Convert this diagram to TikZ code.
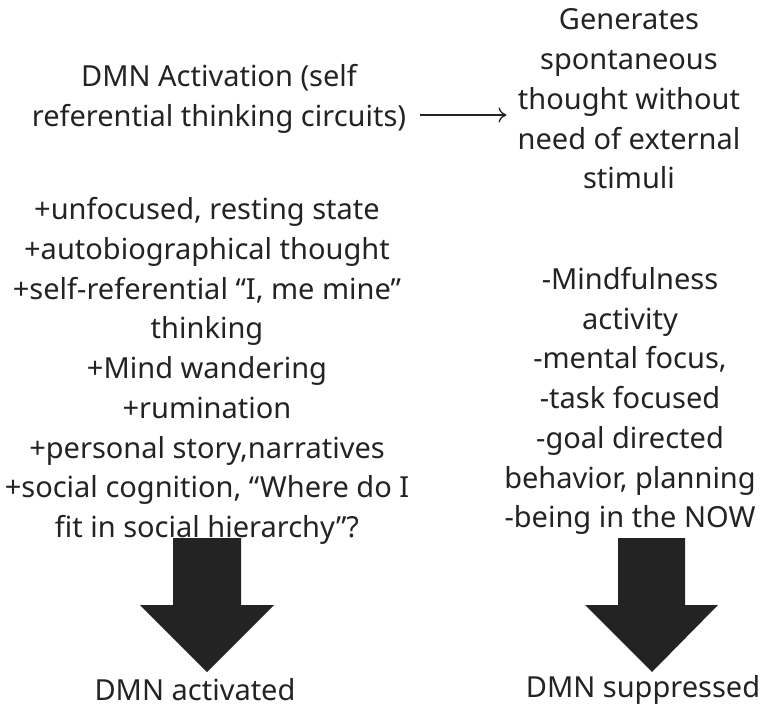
\documentclass[tikz,border=0pt]{standalone}
\usepackage{fontspec}
\setmainfont{Noto Sans}
\usepackage{tikz}
\usetikzlibrary{positioning,arrows.meta}
\usepackage{xcolor}
\definecolor{inkgray}{HTML}{232323}

\begin{document}
\begin{tikzpicture}[x=1pt,y=-1pt,
    txt/.style={font=\fontsize{29}{39.7}\selectfont, text=inkgray, align=center, inner sep=6pt},
    blockarrow/.style={fill=inkgray, draw=none}]
    \useasboundingbox (0,0) rectangle (762,708);

    % top row
    \node[txt] (act) at (219,99) {DMN Activation (self\\referential thinking circuits)};
    \node[txt] (gen) at (629,99) {Generates\\spontaneous\\thought without\\need of external\\stimuli};
    \draw[-{To[length=8pt,width=15pt]}, line width=1.3pt, draw=inkgray, shorten <=8pt, shorten >=5pt]
        (act.east |- 0,115) -- (gen.west |- 0,115);

    % lists
    \node[txt] (plus) at (207,371) {+unfocused, resting state\\+autobiographical thought\\+self-referential “I, me mine”\\thinking\\+Mind wandering\\+rumination\\+personal story,narratives\\+social cognition, “Where do I\\fit in social hierarchy”?};
    \node[txt] (minus) at (630,401) {-Mindfulness\\activity\\-mental focus,\\-task focused\\-goal directed\\behavior, planning\\-being in the NOW};

    % block arrows
    \fill[blockarrow] (173,538) -- (241,538) -- (241,605) -- (274,605) -- (207,672)
                      -- (140,605) -- (173,605) -- cycle;
    \fill[blockarrow] (618,538) -- (685,538) -- (685,605) -- (718,605) -- (652,672)
                      -- (585,605) -- (618,605) -- cycle;

    % results
    \node[txt] (on) at (195,690) {DMN activated};
    \node[txt] (off) at (643,690) {DMN suppressed};
\end{tikzpicture}
\end{document}
